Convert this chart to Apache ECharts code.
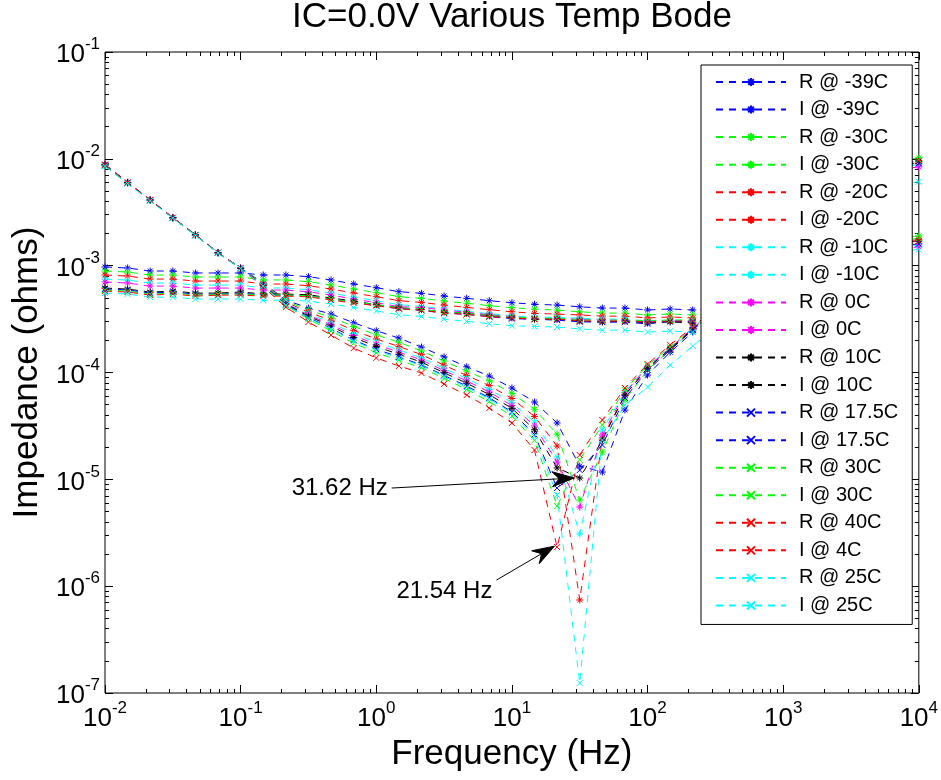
<!DOCTYPE html>
<html>
<head>
<meta charset="utf-8">
<script src="https://cdn.jsdelivr.net/npm/echarts@6/dist/echarts.min.js"></script>
<style>
html, body { margin: 0; padding: 0; background: #fff; }
#chart { width: 941px; height: 780px; }
</style>
</head>
<body>
<div id="chart"></div>
<script>
// Sweep frequencies (Hz), six points per decade
const freqHz = [0.01, 0.01468, 0.02154, 0.03162, 0.04642, 0.06813, 0.1, 0.1468, 0.2154, 0.3162, 0.4642, 0.6813,
  1, 1.468, 2.154, 3.162, 4.642, 6.813, 10, 14.68, 21.54, 31.62, 46.42, 68.13, 100, 146.8, 215.4,
  316.2, 464.2, 681.3, 1000, 1468, 2154, 3162, 4642, 6813, 10000];

// Decade tick labels
const xTicks = [0.01, 0.1, 1, 10, 100, 1000, 10000];
const yTicks = [1e-7, 1e-6, 1e-5, 1e-4, 1e-3, 1e-2, 1e-1];

// Legend entries, in plotting order
const legendNames = ['R @ -39C', 'I @ -39C', 'R @ -30C', 'I @ -30C', 'R @ -20C', 'I @ -20C',
  'R @ -10C', 'I @ -10C', 'R @ 0C', 'I @ 0C', 'R @ 10C', 'I @ 10C', 'R @ 17.5C', 'I @ 17.5C',
  'R @ 30C', 'I @ 30C', 'R @ 40C', 'I @ 4C', 'R @ 25C', 'I @ 25C'];

// Real part (ohms)
const R_m39 = [9.72e-4, 9.51e-4, 8.91e-4, 8.91e-4, 8.54e-4, 8.54e-4, 8.54e-4, 8.18e-4, 8.18e-4, 7.88e-4, 7.34e-4, 6.74e-4,
  6.22e-4, 5.71e-4, 5.51e-4, 5.20e-4, 4.95e-4, 4.70e-4, 4.50e-4, 4.35e-4, 4.28e-4, 4.12e-4, 4.01e-4, 4.01e-4, 3.85e-4, 3.93e-4, 3.85e-4,
  3.9e-4, 4.0e-4, 4.2e-4, 4.5e-4, 5.0e-4, 5.8e-4, 7.0e-4, 8.9e-4, 1.52e-3, 1.6e-3];
const R_m30 = [8.91e-4, 8.72e-4, 8.17e-4, 8.17e-4, 7.83e-4, 7.83e-4, 7.83e-4, 7.35e-4, 7.35e-4, 7.08e-4, 6.59e-4, 6.05e-4,
  5.59e-4, 5.13e-4, 4.95e-4, 4.67e-4, 4.45e-4, 4.22e-4, 4.04e-4, 3.91e-4, 3.84e-4, 3.70e-4, 3.60e-4, 3.60e-4, 3.46e-4, 3.53e-4, 3.46e-4,
  3.5e-4, 3.65e-4, 3.9e-4, 4.3e-4, 4.9e-4, 5.9e-4, 7.4e-4, 9.8e-4, 1.8e-3, 1.9e-3];
const R_m20 = [8.17e-4, 8.00e-4, 7.49e-4, 7.49e-4, 7.18e-4, 7.18e-4, 7.18e-4, 6.73e-4, 6.73e-4, 6.49e-4, 6.04e-4, 5.55e-4,
  5.12e-4, 4.70e-4, 4.53e-4, 4.28e-4, 4.07e-4, 3.87e-4, 3.70e-4, 3.58e-4, 3.52e-4, 3.46e-4, 3.37e-4, 3.37e-4, 3.24e-4, 3.31e-4, 3.24e-4,
  3.3e-4, 3.4e-4, 3.6e-4, 4.0e-4, 4.6e-4, 5.5e-4, 6.9e-4, 9.1e-4, 1.66e-3, 1.75e-3];
const R_m10 = [7.49e-4, 7.33e-4, 6.87e-4, 6.87e-4, 6.58e-4, 6.58e-4, 6.58e-4, 6.18e-4, 6.18e-4, 5.95e-4, 5.54e-4, 5.09e-4,
  4.70e-4, 4.31e-4, 4.16e-4, 3.93e-4, 3.74e-4, 3.55e-4, 3.40e-4, 3.28e-4, 3.30e-4, 3.22e-4, 3.16e-4, 3.16e-4, 3.04e-4, 3.10e-4, 3.04e-4,
  3.1e-4, 3.2e-4, 3.4e-4, 3.7e-4, 4.2e-4, 5.0e-4, 6.2e-4, 8.1e-4, 1.47e-3, 1.55e-3];
const R_p0 = [7.03e-4, 6.88e-4, 6.44e-4, 6.44e-4, 6.17e-4, 6.17e-4, 6.17e-4, 5.91e-4, 5.91e-4, 5.70e-4, 5.31e-4, 4.87e-4,
  4.50e-4, 4.13e-4, 4.07e-4, 3.84e-4, 3.66e-4, 3.47e-4, 3.33e-4, 3.21e-4, 3.18e-4, 3.15e-4, 3.09e-4, 3.09e-4, 2.97e-4, 3.03e-4, 2.97e-4,
  3.0e-4, 3.1e-4, 3.3e-4, 3.6e-4, 4.1e-4, 4.9e-4, 6.0e-4, 7.9e-4, 1.42e-3, 1.5e-3];
const R_p10 = [6.17e-4, 6.04e-4, 5.66e-4, 5.78e-4, 5.54e-4, 5.54e-4, 5.67e-4, 5.43e-4, 5.43e-4, 5.34e-4, 4.98e-4, 4.67e-4,
  4.31e-4, 4.04e-4, 3.90e-4, 3.68e-4, 3.58e-4, 3.40e-4, 3.25e-4, 3.15e-4, 3.16e-4, 3.04e-4, 2.96e-4, 3.03e-4, 2.91e-4, 2.97e-4, 2.91e-4,
  2.95e-4, 3.1e-4, 3.3e-4, 3.7e-4, 4.3e-4, 5.2e-4, 6.6e-4, 8.8e-4, 1.61e-3, 1.7e-3];
const R_p175 = [6.05e-4, 5.92e-4, 5.54e-4, 5.66e-4, 5.42e-4, 5.42e-4, 5.54e-4, 5.31e-4, 5.31e-4, 5.23e-4, 4.87e-4, 4.57e-4,
  4.22e-4, 3.96e-4, 3.82e-4, 3.60e-4, 3.50e-4, 3.33e-4, 3.19e-4, 3.15e-4, 3.09e-4, 2.98e-4, 2.96e-4, 2.96e-4, 2.85e-4, 3.03e-4, 2.97e-4,
  3.0e-4, 3.1e-4, 3.3e-4, 3.65e-4, 4.2e-4, 5.0e-4, 6.3e-4, 8.4e-4, 1.52e-3, 1.6e-3];
const R_p30 = [5.91e-4, 5.78e-4, 5.42e-4, 5.54e-4, 5.31e-4, 5.42e-4, 5.42e-4, 5.31e-4, 5.31e-4, 5.23e-4, 4.87e-4, 4.57e-4,
  4.31e-4, 4.04e-4, 3.90e-4, 3.68e-4, 3.58e-4, 3.40e-4, 3.33e-4, 3.21e-4, 3.23e-4, 3.11e-4, 3.09e-4, 3.09e-4, 3.04e-4, 3.10e-4, 3.10e-4,
  3.15e-4, 3.3e-4, 3.5e-4, 3.9e-4, 4.5e-4, 5.5e-4, 7.0e-4, 9.3e-4, 1.71e-3, 1.8e-3];
const R_p40 = [5.78e-4, 5.66e-4, 5.30e-4, 5.42e-4, 5.19e-4, 5.30e-4, 5.30e-4, 5.19e-4, 5.19e-4, 5.11e-4, 4.76e-4, 4.47e-4,
  4.22e-4, 3.96e-4, 3.82e-4, 3.60e-4, 3.50e-4, 3.33e-4, 3.25e-4, 3.15e-4, 3.16e-4, 3.04e-4, 3.03e-4, 3.03e-4, 2.97e-4, 3.03e-4, 3.04e-4,
  3.1e-4, 3.2e-4, 3.4e-4, 3.8e-4, 4.4e-4, 5.3e-4, 6.7e-4, 8.9e-4, 1.61e-3, 1.7e-3];
const R_p25 = [5.54e-4, 5.42e-4, 5.08e-4, 5.08e-4, 4.87e-4, 4.87e-4, 4.87e-4, 4.73e-4, 4.78e-4, 4.65e-4, 4.38e-4, 4.06e-4,
  3.77e-4, 3.47e-4, 3.35e-4, 3.16e-4, 3.01e-4, 2.86e-4, 2.74e-4, 2.70e-4, 2.66e-4, 2.56e-4, 2.49e-4, 2.49e-4, 2.39e-4, 2.44e-4, 2.39e-4,
  2.45e-4, 2.55e-4, 2.75e-4, 3.05e-4, 3.5e-4, 4.2e-4, 5.4e-4, 7.3e-4, 1.35e-3, 1.42e-3];

// Imaginary part magnitude (ohms)
const I_m39 = [8.70e-3, 5.95e-3, 4.10e-3, 2.80e-3, 1.93e-3, 1.32e-3, 9.50e-4, 6.88e-4, 4.77e-4, 4.01e-4, 3.53e-4, 2.92e-4,
  2.46e-4, 2.10e-4, 1.73e-4, 1.40e-4, 1.13e-4, 9.27e-5, 7.16e-5, 5.29e-5, 3.37e-5, 1.33e-5, 1.17e-5, 4.45e-5, 9.47e-5, 1.55e-4, 2.39e-4,
  3.6e-4, 5.3e-4, 7.8e-4, 1.13e-3, 1.65e-3, 2.4e-3, 3.5e-3, 5.1e-3, 8.4e-3, 9.0e-3];
const I_m30 = [8.80e-3, 6.00e-3, 4.13e-3, 2.82e-3, 1.94e-3, 1.33e-3, 9.45e-4, 6.79e-4, 4.67e-4, 3.84e-4, 3.29e-4, 2.70e-4,
  2.25e-4, 1.92e-4, 1.59e-4, 1.28e-4, 1.03e-4, 8.36e-5, 6.39e-5, 4.53e-5, 2.65e-5, 6.40e-6, 1.80e-5, 5.53e-5, 1.055e-4, 1.62e-4, 2.50e-4,
  3.8e-4, 5.6e-4, 8.3e-4, 1.22e-3, 1.8e-3, 2.65e-3, 3.9e-3, 5.7e-3, 9.7e-3, 1.02e-2];
const I_m20 = [8.75e-3, 5.97e-3, 4.12e-3, 2.81e-3, 1.94e-3, 1.32e-3, 9.40e-4, 6.71e-4, 4.56e-4, 3.67e-4, 3.08e-4, 2.48e-4,
  2.06e-4, 1.75e-4, 1.47e-4, 1.17e-4, 9.39e-5, 7.54e-5, 5.71e-5, 3.88e-5, 2.05e-5, 7.42e-7, 2.44e-5, 6.15e-5, 1.10e-4, 1.66e-4, 2.55e-4,
  3.8e-4, 5.6e-4, 8.2e-4, 1.2e-3, 1.75e-3, 2.55e-3, 3.7e-3, 5.4e-3, 8.8e-3, 9.3e-3];
const I_m10 = [8.60e-3, 5.90e-3, 4.08e-3, 2.79e-3, 1.92e-3, 1.31e-3, 9.40e-4, 6.64e-4, 4.48e-4, 3.54e-4, 2.92e-4, 2.32e-4,
  1.92e-4, 1.63e-4, 1.37e-4, 1.09e-4, 8.76e-5, 6.95e-5, 5.21e-5, 3.43e-5, 1.62e-5, 3.08e-6, 2.89e-5, 6.57e-5, 1.15e-4, 1.69e-4, 2.61e-4,
  3.8e-4, 5.5e-4, 8.0e-4, 1.16e-3, 1.7e-3, 2.45e-3, 3.55e-3, 5.2e-3, 8.3e-3, 8.8e-3];
const I_p0 = [8.90e-3, 6.05e-3, 4.15e-3, 2.83e-3, 1.95e-3, 1.33e-3, 9.50e-4, 6.59e-4, 4.42e-4, 3.45e-4, 2.81e-4, 2.22e-4,
  1.83e-4, 1.55e-4, 1.31e-4, 1.04e-4, 8.33e-5, 6.57e-5, 4.91e-5, 3.16e-5, 1.45e-5, 5.50e-6, 2.60e-5, 6.43e-5, 1.13e-4, 1.69e-4, 2.61e-4,
  3.75e-4, 5.4e-4, 7.8e-4, 1.13e-3, 1.63e-3, 2.35e-3, 3.4e-3, 4.95e-3, 7.9e-3, 8.4e-3];
const I_p10 = [8.80e-3, 6.00e-3, 4.12e-3, 2.81e-3, 1.94e-3, 1.32e-3, 9.45e-4, 6.55e-4, 4.37e-4, 3.37e-4, 2.71e-4, 2.13e-4,
  1.75e-4, 1.48e-4, 1.25e-4, 9.95e-5, 7.94e-5, 6.21e-5, 4.62e-5, 2.91e-5, 1.28e-5, 1.03e-5, 2.33e-5, 6.15e-5, 1.10e-4, 1.66e-4, 2.55e-4,
  3.8e-4, 5.6e-4, 8.3e-4, 1.22e-3, 1.78e-3, 2.6e-3, 3.8e-3, 5.5e-3, 9.0e-3, 9.5e-3];
const I_p175 = [8.70e-3, 5.95e-3, 4.10e-3, 2.80e-3, 1.93e-3, 1.32e-3, 9.45e-4, 6.49e-4, 4.30e-4, 3.27e-4, 2.59e-4, 2.01e-4,
  1.65e-4, 1.40e-4, 1.18e-4, 9.39e-5, 7.47e-5, 5.80e-5, 4.28e-5, 2.63e-5, 8.29e-6, 1.22e-5, 2.10e-5, 5.77e-5, 1.055e-4, 1.62e-4, 2.50e-4,
  3.75e-4, 5.5e-4, 8.1e-4, 1.19e-3, 1.74e-3, 2.55e-3, 3.7e-3, 5.35e-3, 8.6e-3, 9.1e-3];
const I_p30 = [8.65e-3, 5.92e-3, 4.09e-3, 2.80e-3, 1.93e-3, 1.32e-3, 9.45e-4, 6.42e-4, 4.23e-4, 3.16e-4, 2.45e-4, 1.88e-4,
  1.53e-4, 1.30e-4, 1.11e-4, 8.80e-5, 6.95e-5, 5.34e-5, 3.91e-5, 2.32e-5, 5.62e-6, 1.52e-5, 3.22e-5, 6.86e-5, 1.17e-4, 1.73e-4, 2.67e-4,
  4.0e-4, 5.9e-4, 8.7e-4, 1.28e-3, 1.88e-3, 2.75e-3, 4.0e-3, 5.8e-3, 9.3e-3, 9.8e-3];
const I_p40 = [8.80e-3, 6.00e-3, 4.12e-3, 2.81e-3, 1.94e-3, 1.32e-3, 9.40e-4, 6.31e-4, 4.10e-4, 2.97e-4, 2.24e-4, 1.69e-4,
  1.37e-4, 1.15e-4, 9.89e-5, 7.80e-5, 6.15e-5, 4.65e-5, 3.37e-5, 1.88e-5, 2.32e-6, 1.69e-5, 3.59e-5, 7.16e-5, 1.20e-4, 1.81e-4, 2.67e-4,
  4.0e-4, 5.9e-4, 8.6e-4, 1.26e-3, 1.85e-3, 2.7e-3, 3.95e-3, 5.75e-3, 9.1e-3, 9.6e-3];
const I_p25 = [8.50e-3, 5.85e-3, 4.05e-3, 2.78e-3, 1.92e-3, 1.31e-3, 9.40e-4, 6.46e-4, 4.28e-4, 3.23e-4, 2.55e-4, 1.97e-4,
  1.61e-4, 1.36e-4, 1.16e-4, 9.19e-5, 7.27e-5, 5.65e-5, 4.16e-5, 2.52e-5, 7.13e-6, 1.24e-7, 2.33e-5, 4.96e-5, 7.31e-5, 1.17e-4, 1.77e-4,
  2.6e-4, 3.8e-4, 5.5e-4, 7.9e-4, 1.15e-3, 1.67e-3, 2.45e-3, 3.55e-3, 5.8e-3, 6.1e-3];

// Annotated resonance points: [label, tail (Hz, ohms), head (Hz, ohms)]
const notes = [
  ['31.62 Hz', [1.30, 8.29e-6], [28.8, 1.03e-5]],
  ['21.54 Hz', [7.69, 1.14e-6], [20.6, 2.37e-6]]
];

const FONT = '"Liberation Sans", Arial, Helvetica, sans-serif';
const ASTERISK = 'path://M5,0L5,10M0,5L10,5M1.5,1.5L8.5,8.5M8.5,1.5L1.5,8.5';
const CROSS = 'path://M0,0L10,10M10,0L0,10';

const traces = [
  [R_m39, '#0000ff', ASTERISK], [I_m39, '#0000ff', ASTERISK],
  [R_m30, '#00ff00', ASTERISK], [I_m30, '#00ff00', ASTERISK],
  [R_m20, '#ff0000', ASTERISK], [I_m20, '#ff0000', ASTERISK],
  [R_m10, '#00ffff', ASTERISK], [I_m10, '#00ffff', ASTERISK],
  [R_p0, '#ff00ff', ASTERISK], [I_p0, '#ff00ff', ASTERISK],
  [R_p10, '#000000', ASTERISK], [I_p10, '#000000', ASTERISK],
  [R_p175, '#0000ff', CROSS], [I_p175, '#0000ff', CROSS],
  [R_p30, '#00ff00', CROSS], [I_p30, '#00ff00', CROSS],
  [R_p40, '#ff0000', CROSS], [I_p40, '#ff0000', CROSS],
  [R_p25, '#00ffff', CROSS], [I_p25, '#00ffff', CROSS]
];

const series = traces.map(function (t, i) {
  return {
    name: legendNames[i],
    type: 'line',
    xAxisIndex: 0,
    yAxisIndex: 0,
    data: freqHz.map(function (f, k) { return [f, t[0][k]]; }),
    symbol: t[2],
    symbolSize: t[2] === ASTERISK ? 7 : 6,
    showSymbol: true,
    clip: true,
    lineStyle: { color: t[1], width: 1, type: [7, 6] },
    itemStyle: { color: t[1], borderColor: t[1], borderWidth: 1 },
    emphasis: { disabled: true }
  };
});

function minorTicks(lo, hi) {
  const out = [];
  for (let e = lo; e < hi; e++) {
    for (let m = 2; m <= 9; m++) out.push(m * Math.pow(10, e));
  }
  return out;
}
const xMinor = minorTicks(-2, 4);
const yMinor = minorTicks(-7, -1);

const tickRich = {
  b: { fontSize: 26, lineHeight: 32, verticalAlign: 'bottom', fontFamily: FONT, color: '#000' },
  s: { fontSize: 17, lineHeight: 17, verticalAlign: 'top', fontFamily: FONT, color: '#000' }
};
function powerLabel(v) {
  const e = Math.round(Math.log10(v));
  return '{b|10}{s|' + e + '}';
}

function logAxis(min, max, position, ticks, len, extra) {
  return Object.assign({
    type: 'log',
    logBase: 10,
    min: min,
    max: max,
    position: position,
    axisLine: { show: false },
    axisTick: { show: true, inside: true, length: len, customValues: ticks, lineStyle: { color: '#000', width: 1 } },
    axisLabel: { show: false },
    splitLine: { show: false },
    minorTick: { show: false },
    axisPointer: { show: false }
  }, extra || {});
}

const xAxes = [
  logAxis(0.01, 1e4, 'bottom', xTicks, 8, {
    name: 'Frequency (Hz)',
    nameLocation: 'middle',
    nameGap: 41,
    nameTextStyle: { fontSize: 35, fontFamily: FONT, color: '#000' },
    axisLabel: { show: true, customValues: xTicks, formatter: powerLabel, rich: tickRich, margin: 7 }
  }),
  logAxis(0.01, 1e4, 'bottom', xMinor, 4),
  logAxis(0.01, 1e4, 'top', xTicks, 8),
  logAxis(0.01, 1e4, 'top', xMinor, 4)
];
const yAxes = [
  logAxis(1e-7, 1e-1, 'left', yTicks, 8, {
    name: 'Impedance (ohms)',
    nameLocation: 'middle',
    nameGap: 58,
    nameRotate: 90,
    nameTextStyle: { fontSize: 35, fontFamily: FONT, color: '#000' },
    axisLabel: { show: true, customValues: yTicks, formatter: powerLabel, rich: tickRich, margin: 5 }
  }),
  logAxis(1e-7, 1e-1, 'left', yMinor, 4),
  logAxis(1e-7, 1e-1, 'right', yTicks, 8),
  logAxis(1e-7, 1e-1, 'right', yMinor, 4)
];

const chart = echarts.init(document.getElementById('chart'), null, { renderer: 'canvas' });
chart.setOption({
  animation: false,
  backgroundColor: '#fff',
  title: {
    text: 'IC=0.0V Various Temp Bode',
    left: 512,
    top: 0,
    padding: 0,
    textAlign: 'center',
    textStyle: { fontSize: 35, fontWeight: 'normal', fontFamily: FONT, color: '#000' }
  },
  grid: {
    left: 105, top: 52, right: 21, bottom: 87,
    show: true, borderColor: '#000', borderWidth: 1, backgroundColor: '#fff'
  },
  legend: {
    orient: 'vertical',
    left: 701,
    top: 65,
    data: legendNames,
    selectedMode: false,
    backgroundColor: '#fff',
    borderColor: '#000',
    borderWidth: 1,
    padding: [7, 14, 9, 14],
    itemWidth: 70,
    itemHeight: 10,
    itemGap: 7.55,
    textStyle: { fontSize: 20, lineHeight: 20, fontFamily: FONT, color: '#000', padding: [0, 0, 0, 8] }
  },
  xAxis: xAxes,
  yAxis: yAxes,
  series: series
});

// Arrow annotations anchored in data space
const graphics = [];
notes.forEach(function (n, idx) {
  const tail = chart.convertToPixel({ xAxisIndex: 0, yAxisIndex: 0 }, n[1]);
  const tip = chart.convertToPixel({ xAxisIndex: 0, yAxisIndex: 0 }, n[2]);
  const dx = tip[0] - tail[0], dy = tip[1] - tail[1];
  const len = Math.sqrt(dx * dx + dy * dy);
  const ux = dx / len, uy = dy / len, nx = -uy, ny = ux;
  const L = 22, W = 7.5, notch = 7;
  const base = [tip[0] - L * ux, tip[1] - L * uy];
  const neck = [tip[0] - (L - notch) * ux, tip[1] - (L - notch) * uy];
  graphics.push({
    type: 'line', z: 50,
    shape: { x1: tail[0], y1: tail[1], x2: neck[0], y2: neck[1] },
    style: { stroke: '#000', lineWidth: 1 }
  });
  graphics.push({
    type: 'polygon', z: 50,
    shape: { points: [tip, [base[0] + W * nx, base[1] + W * ny], neck, [base[0] - W * nx, base[1] - W * ny]] },
    style: { fill: '#000', stroke: '#000', lineWidth: 1 }
  });
  graphics.push({
    type: 'text', z: 50,
    x: tail[0] - 4,
    y: idx === 0 ? tail[1] : tail[1] + 11,
    style: { text: n[0], font: '24px ' + FONT, fill: '#000', textAlign: 'right', textVerticalAlign: 'middle' }
  });
});
chart.setOption({ graphic: graphics });
</script>
</body>
</html>
